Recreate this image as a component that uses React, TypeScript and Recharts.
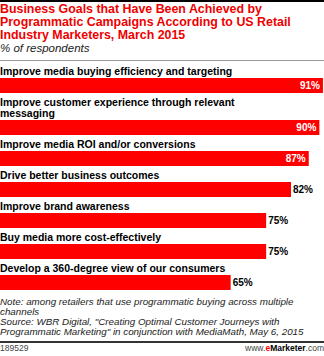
import { BarChart, Bar, XAxis, YAxis, LabelList } from "recharts";

const goals = [
  "Improve media buying efficiency and targeting",
  "Improve customer experience through relevant messaging",
  "Improve media ROI and/or conversions",
  "Drive better business outcomes",
  "Improve brand awareness",
  "Buy media more cost-effectively",
  "Develop a 360-degree view of our consumers",
];

const shares = [91, 90, 87, 82, 75, 75, 65];

const noteLines = [
  "Note: among retailers that use programmatic buying across multiple",
  "channels",
  'Source: WBR Digital, "Creating Optimal Customer Journeys with',
  'Programmatic Marketing" in conjunction with MediaMath, May 6, 2015',
];

const RED = "#ff0000";
const FONT = '"Liberation Sans", Arial, sans-serif';

const rows = goals.map((goal, i) => ({ goal, share: shares[i] }));

function ShareLabel(props: any) {
  const { x, y, width, height, value } = props;
  // the longest bars carry their value inside, in white
  const inside = value >= 85;
  return (
    <text
      x={inside ? x + width - 3 : x + width + 2}
      y={y + height / 2}
      dy="0.36em"
      textAnchor={inside ? "end" : "start"}
      fill={inside ? "#fff" : "#000"}
      fontSize={10}
      fontWeight={700}
      fontFamily={FONT}
    >
      {value}%
    </text>
  );
}

export default function App() {
  return (
    <div
      style={{
        position: "absolute",
        left: 0,
        top: 0,
        width: 324,
        height: 356,
        background: "#fff",
        fontFamily: FONT,
        overflow: "hidden",
      }}
    >
      <div style={{ height: 2, background: "#000" }} />

      <div
        style={{
          marginTop: 1,
          color: "#ee0000",
          fontSize: 12.4,
          lineHeight: "13px",
          fontWeight: 700,
        }}
      >
        Business Goals that Have Been Achieved by
        <br />
        Programmatic Campaigns According to US Retail
        <br />
        Industry Marketers, March 2015
      </div>

      <div
        style={{
          fontSize: 11.5,
          lineHeight: "13px",
          fontStyle: "italic",
          color: "#222",
        }}
      >
        % of respondents
      </div>

      <div style={{ marginTop: 5, height: 1, background: "#999" }} />

      <div style={{ marginTop: 5 }}>
        {rows.map((row) => (
          <div key={row.goal} style={{ marginBottom: 4 }}>
            <div
              style={{
                width: 245,
                fontSize: 10.5,
                lineHeight: "11px",
                fontWeight: 700,
                color: "#000",
              }}
            >
              {row.goal}
            </div>

            <div style={{ marginTop: 1, height: 15 }}>
              <BarChart
                width={324}
                height={15}
                data={[row]}
                layout="vertical"
                margin={{ top: 0, right: 0, bottom: 0, left: 0 }}
                barCategoryGap={0}
              >
                <XAxis type="number" domain={[0, 91.3]} hide />
                <YAxis type="category" dataKey="goal" hide />
                <Bar dataKey="share" fill={RED} isAnimationActive={false}>
                  <LabelList dataKey="share" content={ShareLabel} />
                </Bar>
              </BarChart>
            </div>
          </div>
        ))}
      </div>

      <div
        style={{
          marginTop: 7,
          fontSize: 9.8,
          lineHeight: "10px",
          fontStyle: "italic",
          color: "#222",
        }}
      >
        {noteLines.map((line) => (
          <div key={line}>{line}</div>
        ))}
      </div>

      <div style={{ marginTop: 4, height: 2, background: "#333" }} />

      <div
        style={{
          display: "flex",
          justifyContent: "space-between",
          fontSize: 8.5,
          lineHeight: "9px",
          color: "#444",
          marginTop: 1,
        }}
      >
        <span>189529</span>
        <span>
          www.
          <span style={{ color: RED, fontWeight: 700 }}>e</span>
          <span style={{ color: "#000", fontWeight: 700 }}>Marketer</span>
          .com
        </span>
      </div>
    </div>
  );
}
